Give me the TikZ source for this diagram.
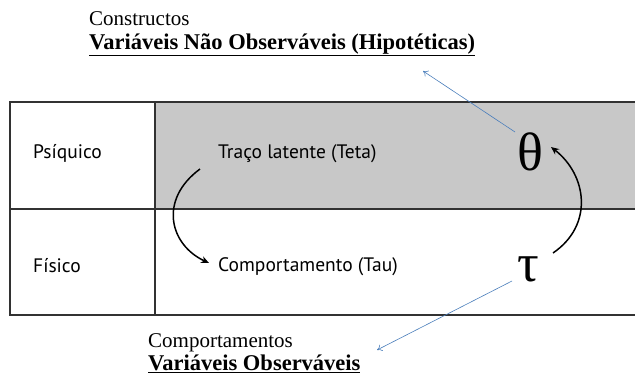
\documentclass[tikz,border=0pt]{standalone}
\usepackage{fontspec}
\setmainfont{Liberation Serif}
\newfontfamily\tabfont{PT Sans}
\usepackage{xcolor}
\usetikzlibrary{arrows.meta}

\definecolor{fundo}{RGB}{200,200,200}
\definecolor{linha}{RGB}{50,50,50}
\definecolor{azul}{RGB}{74,126,187}

\tikzset{
  celula/.style={anchor=base west, inner sep=0pt, font=\tabfont\fontsize{19.5}{23}\selectfont},
  titulo/.style={anchor=base west, inner sep=0pt, font=\fontsize{21}{25}\selectfont},
  destaque/.style={anchor=base west, inner sep=0pt, font=\bfseries\fontsize{22.5}{26}\selectfont},
  grego/.style={anchor=base, inner sep=0pt, font=\fontsize{54}{58}\selectfont},
  seta/.style={-{Stealth[length=8pt,width=7pt]}, line width=1.5pt},
  setaazul/.style={-{To[length=5pt,width=7pt]}, azul, line width=0.6pt}
}

\begin{document}
\begin{tikzpicture}[x=1pt,y=-1pt]
\useasboundingbox (0,0) rectangle (635,378);
				\fill[fundo] (155,102) rectangle (635,209);
				\draw[linha, line width=1.8pt] (635,102) -- (10,102) -- (10,315) -- (635,315);
				\draw[linha, line width=1.8pt] (10,209) -- (635,209);
				\draw[linha, line width=1.8pt] (155,102) -- (155,315);
				% textos da tabela
				\node[celula] (psiq) at (33,158) {Psíquico};
				\node[celula] (fis) at (33,272) {Físico};
				\node[celula] (traco) at (218,158) {Traço latente (Teta)};
				\node[celula] (comport) at (218,271) {Comportamento (Tau)};
				\node[grego] (theta) at (530,170) {θ};
				\node[grego] (tau) at (528,281) {τ};
				% titulos
				\node[titulo] (constr) at (89,25) {Constructos};
				\node[destaque] (naoobs) at (89,49) {\underline{Variáveis Não Observáveis (Hipotéticas)}};
				\node[titulo] (comps) at (148,347) {Comportamentos};
				\node[destaque] (obs) at (148,370) {\underline{Variáveis Observáveis}};
				% setas
				\draw[seta] (200,169) .. controls (158,200) and (170,245) .. (209,263);
				\draw[seta] (553,253) .. controls (594,225) and (587,175) .. (551,147);
				\coordinate (c1) at (423,71);
				\coordinate (c2) at (377,350);
				\draw[setaazul] (515,132) -- (c1);
				\draw[setaazul] (512,281) -- (c2);
			\end{tikzpicture}
\end{document}
